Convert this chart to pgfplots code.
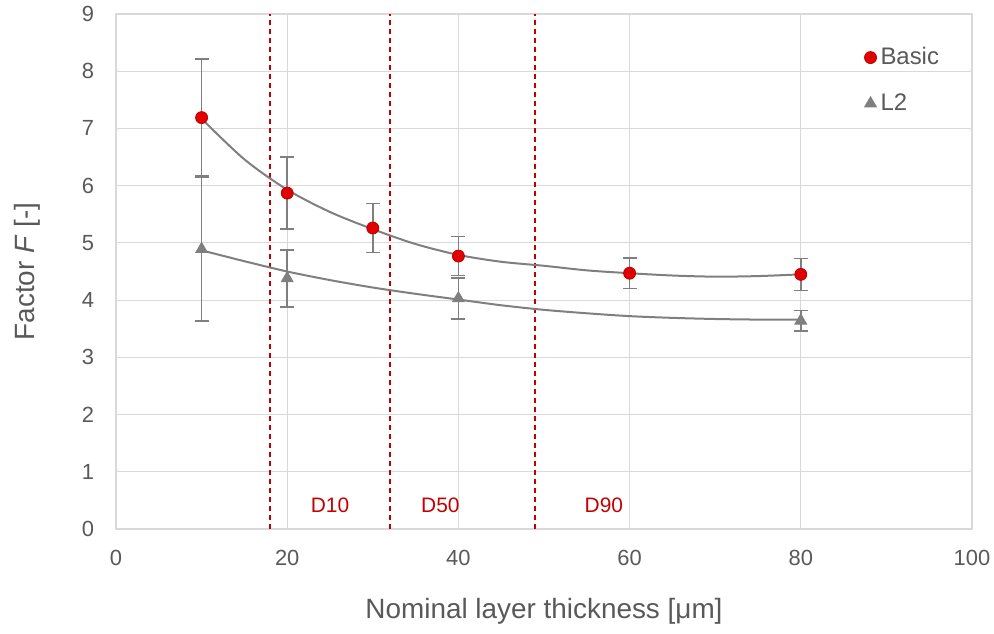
\documentclass[border=0pt]{standalone}
\usepackage{fontspec}
\setmainfont{Liberation Sans}
\usepackage{pgfplots}
\pgfplotsset{compat=1.18}

\definecolor{txt}{HTML}{595959}
\definecolor{gridc}{HTML}{D9D9D9}
\definecolor{mred}{HTML}{E00000}
\definecolor{mgrey}{HTML}{7F7F7F}
\definecolor{dred}{HTML}{C00000}

\begin{document}
\begin{tikzpicture}
\begin{axis}[
    scale only axis,
    width=428bp, height=257.5bp,
    xmin=0, xmax=100, ymin=0, ymax=9,
    xtick={0,20,...,100}, ytick={0,1,...,9},
    grid=major,
    major grid style={gridc, line width=0.6bp},
    axis line style={gridc, line width=0.6bp},
    major tick length=0pt,
    /pgf/number format/assume math mode=true,
    ticklabel style={font=\fontsize{11}{13}\selectfont, text=txt},
    xticklabel style={yshift=-7bp},
    yticklabel style={xshift=-7.5bp},
    xlabel={Nominal layer thickness [μm]},
    ylabel={Factor \textit{F} [-]},
    label style={font=\fontsize{14}{16}\selectfont, text=txt},
    x label style={at={(axis description cs:0.5,-0.159)}, anchor=center},
    y label style={at={(axis description cs:-0.104,0.5)}, anchor=center},
    legend cell align=left,
    legend style={at={(axis cs:86.7,7.84)}, anchor=west, draw=none, fill=none,
        font=\fontsize{12}{14}\selectfont, text=txt, row sep=9bp,
        /tikz/every even column/.append style={column sep=2bp}},
    clip=false,
]
% particle size markers
\addplot[forget plot, dred, line width=0.75bp, dash pattern=on 2.5bp off 2bp] coordinates {(18,0) (18,9)};
\addplot[forget plot, dred, line width=0.75bp, dash pattern=on 2.5bp off 2bp] coordinates {(32,0) (32,9)};
\addplot[forget plot, dred, line width=0.75bp, dash pattern=on 2.5bp off 2bp] coordinates {(48.95,0) (48.95,9)};
\node[text=dred!90!red, font=\fontsize{10.5}{12}\selectfont] at (axis cs:25,0.42) {D10};
\node[text=dred!90!red, font=\fontsize{10.5}{12}\selectfont] at (axis cs:37.9,0.42) {D50};
\node[text=dred!90!red, font=\fontsize{10.5}{12}\selectfont] at (axis cs:57,0.42) {D90};

% trend lines
\addplot[forget plot, mgrey, line width=1bp, smooth] coordinates {
    (10,7.17) (15,6.46) (20,5.93) (25,5.54) (30,5.24) (35,4.98) (40,4.79)
    (45,4.67) (50,4.60) (55,4.52) (60,4.47) (65,4.43) (70,4.41) (75,4.42) (80,4.45)};
\addplot[forget plot, mgrey, line width=1bp, smooth] coordinates {
    (10,4.87) (15,4.68) (20,4.50) (25,4.35) (30,4.22) (35,4.11) (40,4.01)
    (45,3.91) (50,3.83) (55,3.77) (60,3.72) (65,3.69) (70,3.67) (75,3.66) (80,3.66)};

% Basic
\addplot[only marks, mark=*, mark size=3bp,
    mark options={fill=mred, draw=mred!85!black, line width=0.4bp},
    error bars/.cd, y dir=both, y explicit,
    error bar style={mgrey, line width=0.8bp},
    error mark options={rotate=90, mark size=3.5bp, mgrey, line width=0.8bp}]
  coordinates {
    (10,7.19) +- (0,1.02)
    (20,5.87) +- (0,0.63)
    (30,5.26) +- (0,0.43)
    (40,4.77) +- (0,0.34)
    (60,4.47) +- (0,0.27)
    (80,4.45) +- (0,0.28)
  };
\addlegendentry{Basic}

% L2
\addplot[only marks, mark=triangle*, mark size=3.4bp,
    mark options={fill=mgrey, draw=mgrey},
    error bars/.cd, y dir=both, y explicit,
    error bar style={mgrey, line width=0.8bp},
    error mark options={rotate=90, mark size=3.5bp, mgrey, line width=0.8bp}]
  coordinates {
    (10,4.89) +- (0,1.25)
    (20,4.38) +- (0,0.50)
    (40,4.03) +- (0,0.36)
    (80,3.64) +- (0,0.18)
  };
\addlegendentry{L2}
\end{axis}
\pgfresetboundingbox
\path (-58bp,-52.5bp) rectangle (439bp,264.5bp);
\end{tikzpicture}
\end{document}
